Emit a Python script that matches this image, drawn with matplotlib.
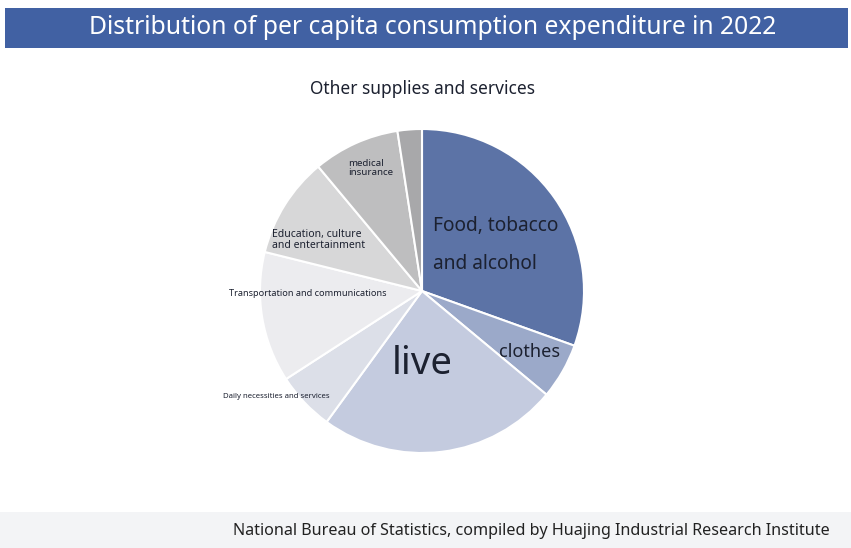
import matplotlib.pyplot as plt
from matplotlib.patches import Rectangle

plt.rcParams['font.family'] = ['Noto Sans', 'DejaVu Sans']

# per capita consumption expenditure 2022 (yuan)
categories = ['Food, tobacco\nand alcohol', 'clothes', 'live', 'Daily necessities and services',
              'Transportation and communications', 'Education, culture\nand entertainment',
              'medical\ninsurance', 'Other supplies and services']
values = [7481, 1365, 5882, 1432, 3195, 2469, 2120, 595]
colors = ['#5c73a6', '#9ba9c9', '#c4cbdf', '#dcdfe8', '#ececef', '#d7d7d8', '#bebebf', '#a8a8aa']

W, H = 851, 548
fig = plt.figure(figsize=(W / 100, H / 100), dpi=100)
fig.patch.set_facecolor('white')


def fx(x):
    return x / W


def fy(y):
    return 1 - y / H


# header bar
fig.patches.append(Rectangle((fx(5), fy(48)), fx(843), 40 / H, transform=fig.transFigure,
                             facecolor='#4161a3', edgecolor='none'))
fig.text(fx(433), fy(27), 'Distribution of per capita consumption expenditure in 2022',
         color='white', fontsize=17.8, ha='center', va='center')

# footer band
fig.patches.append(Rectangle((0, 0), 1, 36 / H, transform=fig.transFigure,
                             facecolor='#f3f4f6', edgecolor='none'))
fig.text(fx(531), fy(531), 'National Bureau of Statistics, compiled by Huajing Industrial Research Institute',
         color='#222222', fontsize=11.6, ha='center', va='center')

# pie
cx, cy, r = 422, 291, 162
ax = fig.add_axes([fx(cx - r), fy(cy + r), 2 * r / W, 2 * r / H])
ax.pie(values, colors=colors, startangle=90, counterclock=False,
       wedgeprops=dict(edgecolor='white', linewidth=1.5))
ax.set_xlim(-1, 1)
ax.set_ylim(-1, 1)
ax.set_aspect('auto')
ax.axis('off')

# wedge labels: text, x, y, size, ha, line spacing
labels = [
    (categories[0], 433, 245, 13.8, 'left', 2.2),
    (categories[1], 530, 352, 13, 'center', 1.2),
    (categories[2], 422, 364, 27.6, 'center', 1.2),
    (categories[3], 276, 397, 5.6, 'center', 1.2),
    (categories[4], 308, 294, 6.6, 'center', 1.2),
    (categories[5], 272, 240, 7.5, 'left', 0.9),
    (categories[6], 348, 168, 7, 'left', 0.9),
    (categories[7], 422, 89, 12.5, 'center', 1.2),
]
for text, x, y, size, ha, ls in labels:
    fig.text(fx(x), fy(y), text, fontsize=size, ha=ha, va='center', color='#1c2130',
             linespacing=ls)

fig.savefig('out.png', dpi=100)
